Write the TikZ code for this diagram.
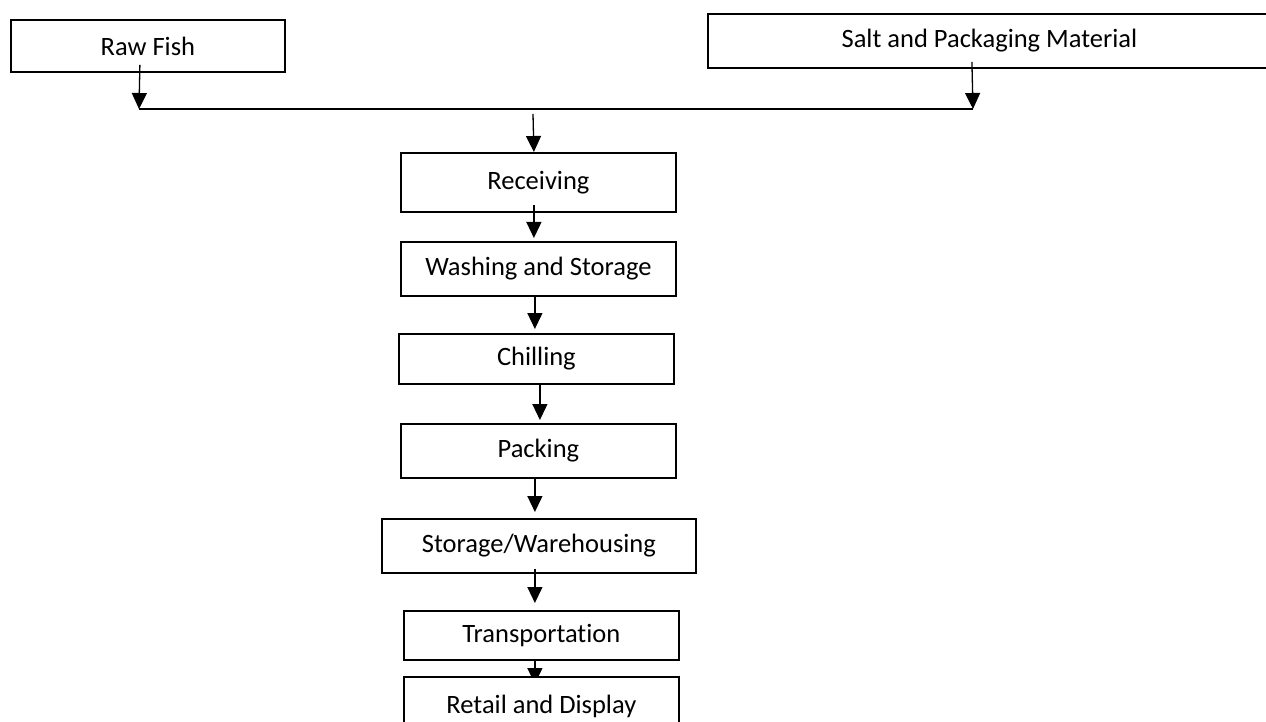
\documentclass[tikz,border=0pt]{standalone}
\usepackage{fontspec}
\setmainfont{Carlito}[RawFeature=-liga]
\usetikzlibrary{arrows.meta,backgrounds}

\tikzset{
  stepbox/.style={draw=black, line width=1.8pt, rectangle, inner sep=0pt,
                  anchor=north west, font=\fontsize{26.5}{31}\selectfont},
  flow/.style={draw=black, line width=1.3pt,
               -{Triangle[length=16pt,width=15pt]}},
  joinline/.style={draw=black, line width=1.3pt}
}

\begin{document}
\begin{tikzpicture}[x=1pt, y=-1pt]
  \useasboundingbox (0,0) rectangle (1266,722);

  % inputs
  \node[stepbox, minimum width=274pt, minimum height=52pt] (rawfish) at (10,19) {Raw Fish};
  \node[stepbox, minimum width=563pt, minimum height=54pt] (salt) at (707,13)
       {Salt and Packaging Material};

  % process chain
  \node[stepbox, minimum width=275pt, minimum height=59pt] (recv)   at (400,152) {Receiving};
  \node[stepbox, minimum width=275pt, minimum height=54pt] (wash)   at (400,241) {Washing and Storage};
  \node[stepbox, minimum width=275pt, minimum height=50pt] (chill)  at (398,333) {Chilling};
  \node[stepbox, minimum width=275pt, minimum height=54pt] (pack)   at (400,423) {Packing};
  \node[stepbox, minimum width=314pt, minimum height=54pt] (store)  at (381,518) {Storage/Warehousing};
  \node[stepbox, minimum width=275pt, minimum height=49pt] (trans)  at (403,610) {Transportation};
  \node[stepbox, fill=white, minimum width=275pt, minimum height=59pt] (retail) at (403,676) {Retail and Display};

  % junction points of the feed line
  \coordinate (jl) at (139,109);
  \coordinate (jr) at (973,109);
  \coordinate (feed) at (533,114);

  \begin{scope}[on background layer]
    \draw[flow] ([xshift=-8pt,yshift=8pt]rawfish.south) -- (jl);
    \draw[flow] ([xshift=-17.5pt,yshift=7pt]salt.south) -- (jr);
    \draw[joinline] (jl) -- (jr);
    \draw[flow] (feed) -- ([xshift=-4.5pt]recv.north);
    \draw[flow] ([xshift=-4.5pt,yshift=8pt]recv.south) -- ([xshift=-4.5pt,yshift=3pt]wash.north);
    \draw[flow] ([xshift=-3.5pt,yshift=2pt]wash.south) -- ([xshift=-1.5pt,yshift=4pt]chill.north);
    \draw[flow] ([xshift=3.5pt]chill.south) -- ([xshift=1.5pt,yshift=3pt]pack.north);
    \draw[flow] ([xshift=-3.5pt]pack.south) -- ([xshift=-4pt,yshift=6pt]store.north);
    \draw[flow] ([xshift=-4pt,yshift=5pt]store.south) -- ([xshift=-6.5pt,yshift=7pt]trans.north);
    \draw[flow] ([xshift=-6.5pt,yshift=2pt]trans.south) -- ([xshift=-6.5pt,yshift=-8pt]retail.north);
  \end{scope}
\end{tikzpicture}
\end{document}
